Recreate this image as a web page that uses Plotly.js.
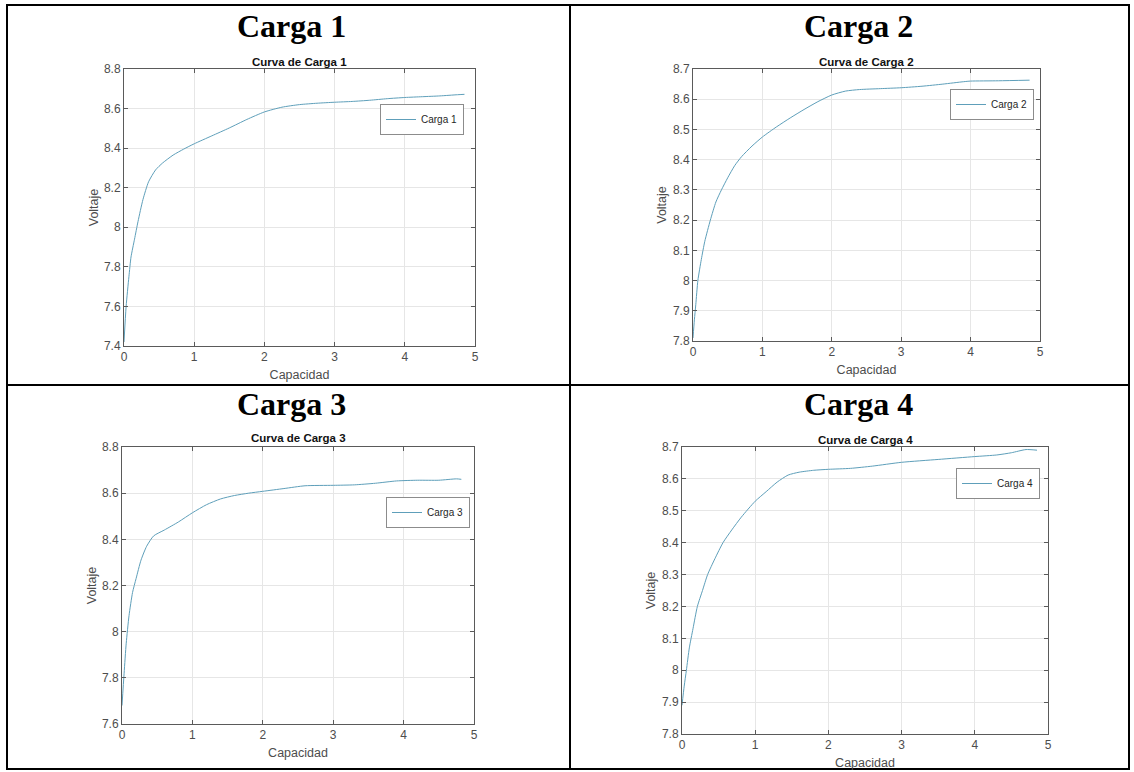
<!DOCTYPE html>
<html>
<head>
<meta charset="utf-8">
<script src="https://cdn.plot.ly/plotly-3.0.1.min.js"></script>
<style>
html,body{margin:0;padding:0;background:#fff;}
#chart{width:1134px;height:772px;}
</style>
</head>
<body>
<div id="chart"></div>
<script>
// ---- Data ----
const headers = ["Carga 1", "Carga 2", "Carga 3", "Carga 4"];
const plotTitles = ["Curva de Carga 1", "Curva de Carga 2", "Curva de Carga 3", "Curva de Carga 4"];
const seriesNames = ["Carga 1", "Carga 2", "Carga 3", "Carga 4"];
const xLabel = "Capacidad";
const yLabel = "Voltaje";

const cap1 = [0, 0.03, 0.07, 0.1, 0.15, 0.2, 0.27, 0.35, 0.45, 0.55, 0.7, 0.85, 1.0, 1.25, 1.5, 1.75, 2.0, 2.25, 2.5, 2.75, 3.0, 3.25, 3.5, 3.75, 4.0, 4.25, 4.5, 4.75, 4.85];
const volt1 = [7.42, 7.6, 7.75, 7.85, 7.94, 8.03, 8.14, 8.23, 8.29, 8.325, 8.365, 8.395, 8.422, 8.462, 8.502, 8.545, 8.583, 8.607, 8.62, 8.627, 8.632, 8.636, 8.642, 8.65, 8.656, 8.66, 8.664, 8.67, 8.672];

const cap2 = [0, 0.02, 0.04, 0.07, 0.12, 0.17, 0.25, 0.33, 0.41, 0.5, 0.6, 0.7, 0.85, 1.0, 1.2, 1.4, 1.6, 1.8, 2.0, 2.2, 2.4, 2.7, 3.0, 3.3, 3.6, 3.9, 4.0, 4.4, 4.85];
const volt2 = [7.81, 7.87, 7.92, 8.0, 8.07, 8.13, 8.2, 8.26, 8.3, 8.34, 8.38, 8.41, 8.445, 8.475, 8.508, 8.538, 8.566, 8.592, 8.614, 8.627, 8.632, 8.635, 8.638, 8.643, 8.65, 8.658, 8.66, 8.661, 8.663];

const cap3 = [0, 0.03, 0.06, 0.1, 0.15, 0.2, 0.27, 0.35, 0.45, 0.6, 0.8, 1.0, 1.2, 1.4, 1.6, 1.8, 2.0, 2.3, 2.6, 3.0, 3.3, 3.6, 3.9, 4.2, 4.5, 4.75, 4.82];
const volt3 = [7.68, 7.82, 7.95, 8.07, 8.17, 8.23, 8.31, 8.37, 8.415, 8.44, 8.475, 8.515, 8.55, 8.575, 8.59, 8.6, 8.608, 8.62, 8.632, 8.634, 8.636, 8.643, 8.653, 8.656, 8.656, 8.662, 8.66];

const cap4 = [0, 0.03, 0.06, 0.1, 0.15, 0.21, 0.28, 0.35, 0.45, 0.56, 0.68, 0.81, 1.0, 1.15, 1.3, 1.45, 1.6, 1.8, 2.0, 2.3, 2.6, 3.0, 3.5, 4.0, 4.3, 4.5, 4.7, 4.85];
const volt4 = [7.89, 7.95, 8.0, 8.07, 8.13, 8.2, 8.25, 8.3, 8.35, 8.4, 8.44, 8.48, 8.53, 8.56, 8.59, 8.612, 8.621, 8.627, 8.63, 8.633, 8.64, 8.652, 8.661, 8.67, 8.675, 8.682, 8.692, 8.69];

const yRanges = [[7.4, 8.8], [7.8, 8.7], [7.6, 8.8], [7.8, 8.7]];
const yDticks = [0.2, 0.1, 0.2, 0.1];
const xRange = [0, 5];

// ---- Layout geometry (pixels) ----
const W = 1134, H = 772;
const boxes = [
  {l:124, r:475, t:69, b:346, hx:291, hy:26, ty:62, lgx:464, lgy:104, ys:2},
  {l:693, r:1040, t:69, b:341, hx:858, hy:26, ty:62, lgx:1034, lgy:89, ys:3},
  {l:122, r:474, t:447, b:724, hx:291, hy:404, ty:438, lgx:470, lgy:497, ys:2},
  {l:682, r:1048, t:447, b:734, hx:858, hy:404, ty:440, lgx:1040, lgy:468, ys:3}
];
const px = v => v / W;
const py = v => 1 - v / H;

const caps = [cap1, cap2, cap3, cap4];
const volts = [volt1, volt2, volt3, volt4];
const lineColor = "#5e9fba";
const sansFont = "Liberation Sans, Arial, sans-serif";

const traces = [];
const layout = {
  width: W, height: H,
  margin: {l:0, r:0, t:0, b:0},
  paper_bgcolor: "#ffffff",
  plot_bgcolor: "#ffffff",
  showlegend: true,
  annotations: [],
  shapes: []
};

for (let i = 0; i < 4; i++) {
  const s = i === 0 ? "" : String(i + 1);
  const b = boxes[i];
  const legName = i === 0 ? "legend" : "legend" + (i + 1);
  traces.push({
    type: "scatter", mode: "lines",
    x: caps[i], y: volts[i],
    name: seriesNames[i],
    xaxis: "x" + s, yaxis: "y" + s,
    legend: legName,
    line: {color: lineColor, width: 1, shape: "spline", smoothing: 0.6}
  });
  const axCommon = {
    showgrid: true, gridcolor: "#e6e6e6", gridwidth: 1,
    zeroline: false,
    showline: true, linecolor: "#5a5a5a", linewidth: 1, mirror: "ticks",
    ticks: "inside", ticklen: 4, tickcolor: "#5a5a5a", tickwidth: 1,
    tickfont: {family: sansFont, size: 12, color: "#4d4d4d"},
    fixedrange: true
  };
  layout["xaxis" + s] = Object.assign({}, axCommon, {
    domain: [px(b.l), px(b.r)],
    anchor: "y" + s,
    range: xRange, dtick: 1, tick0: 0,
    title: {text: xLabel, font: {family: sansFont, size: 12.5, color: "#4d4d4d"}, standoff: 6}
  });
  layout["yaxis" + s] = Object.assign({}, axCommon, {
    domain: [py(b.b), py(b.t)],
    anchor: "x" + s,
    range: yRanges[i], dtick: yDticks[i], tick0: 7,
    title: {text: yLabel, font: {family: sansFont, size: 12.5, color: "#4d4d4d"}, standoff: b.ys}
  });
  layout[legName] = {
    x: px(b.lgx), y: py(b.lgy), xanchor: "right", yanchor: "top",
    xref: "paper", yref: "paper",
    bgcolor: "#ffffff", bordercolor: "#8c8c8c", borderwidth: 1,
    font: {family: sansFont, size: 10, color: "#262626"},
    itemwidth: 30, tracegroupgap: 0
  };
  // Big table-cell headers
  layout.annotations.push({
    text: headers[i], xref: "paper", yref: "paper",
    x: px(b.hx), y: py(b.hy), xanchor: "center", yanchor: "middle",
    showarrow: false,
    font: {family: "Liberation Serif, Times New Roman, serif", size: 32, color: "#000000", weight: "bold"}
  });
  // Plot titles
  layout.annotations.push({
    text: plotTitles[i], xref: "paper", yref: "paper",
    x: px((b.l + b.r) / 2), y: py(b.ty), xanchor: "center", yanchor: "middle",
    showarrow: false,
    font: {family: sansFont, size: 11.5, color: "#111111", weight: "bold"}
  });
}

// Table borders
const tbl = {l:7, r:1129, t:5, b:769, mx:570, my:385};
const border = {color: "#000000", width: 2};
layout.shapes.push(
  {type: "rect", xref: "paper", yref: "paper", x0: px(tbl.l), x1: px(tbl.r), y0: py(tbl.b), y1: py(tbl.t), line: border},
  {type: "line", xref: "paper", yref: "paper", x0: px(tbl.mx), x1: px(tbl.mx), y0: py(tbl.b), y1: py(tbl.t), line: border},
  {type: "line", xref: "paper", yref: "paper", x0: px(tbl.l), x1: px(tbl.r), y0: py(tbl.my), y1: py(tbl.my), line: border}
);

Plotly.newPlot("chart", traces, layout, {displayModeBar: false, staticPlot: true});
</script>
</body>
</html>
